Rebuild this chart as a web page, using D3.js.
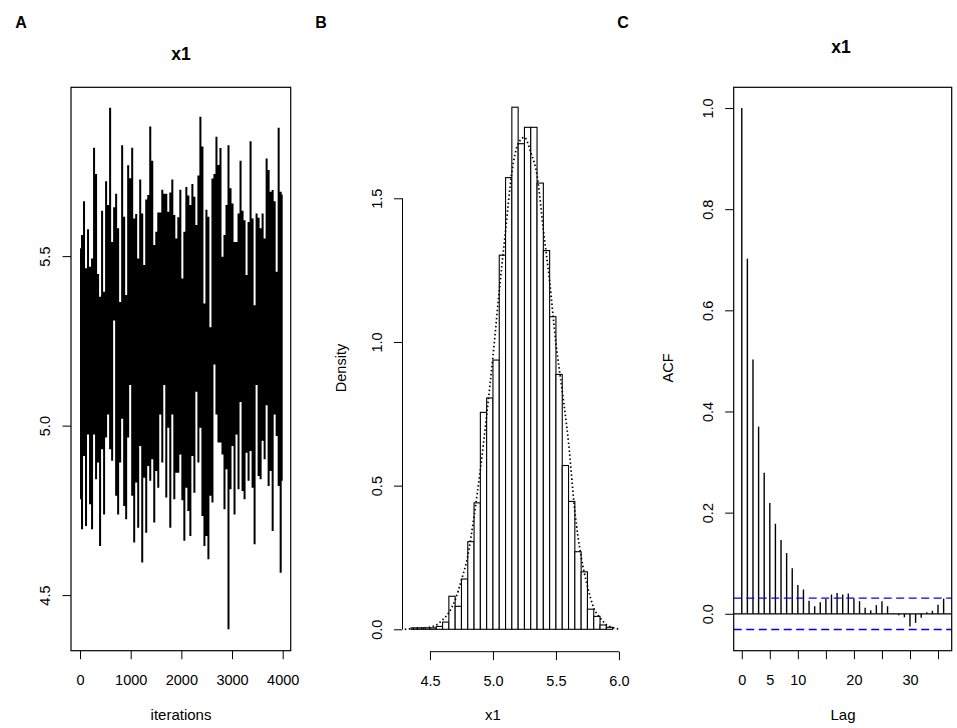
<!DOCTYPE html>
<html>
<head>
<meta charset="utf-8">
<script src="https://cdn.jsdelivr.net/npm/d3@7"></script>
<style>
  body { margin: 0; background: #fff; }
  svg text { font-family: "Liberation Sans", Arial, sans-serif; fill: #000; }
</style>
</head>
<body>
<svg id="chart"></svg>
<script>
// --- data ---

// A: trace of x1, one high / low pair per ~40 iterations
const traceIter = [0, 40, 79, 119, 158, 198, 238, 277, 317, 356, 396, 436, 475, 515, 554, 594, 634, 673, 713, 752,
    792, 832, 871, 911, 950, 990, 1030, 1069, 1109, 1148, 1188, 1228, 1267, 1307, 1346, 1386, 1426, 1465, 1505, 1544,
    1584, 1624, 1663, 1703, 1742, 1782, 1822, 1861, 1901, 1940, 1980, 2020, 2059, 2099, 2138, 2178, 2218, 2257, 2297, 2336,
    2376, 2416, 2455, 2495, 2534, 2574, 2614, 2653, 2693, 2732, 2772, 2812, 2851, 2891, 2930, 2970, 3010, 3049, 3089, 3128,
    3168, 3208, 3247, 3287, 3326, 3366, 3406, 3445, 3485, 3524, 3564, 3604, 3643, 3683, 3722, 3762, 3802, 3841, 3881, 3920,
    3960, 4000];
const traceMax = [5.523, 5.562, 5.662, 5.464, 5.579, 5.469, 5.493, 5.820, 5.742, 5.447, 5.380, 5.634, 5.395, 5.721, 5.651,
    5.938, 5.542, 5.644, 5.684, 5.582, 5.365, 5.827, 5.616, 5.385, 5.768, 5.730, 5.820, 5.611, 5.624, 5.493, 5.726, 5.626,
    5.474, 5.667, 5.680, 5.882, 5.781, 5.533, 5.572, 5.629, 5.629, 5.696, 5.684, 5.684, 5.631, 5.688, 5.726, 5.621, 5.552,
    5.615, 5.696, 5.434, 5.572, 5.704, 5.679, 5.651, 5.713, 5.675, 5.592, 5.738, 5.911, 5.823, 5.360, 5.637, 5.616, 5.290,
    5.729, 5.742, 5.852, 5.769, 5.819, 5.498, 5.562, 5.651, 5.827, 5.700, 5.655, 5.542, 5.542, 5.626, 5.781, 5.634, 5.606,
    5.444, 5.601, 5.839, 5.611, 5.355, 5.626, 5.613, 5.582, 5.626, 5.552, 5.788, 5.754, 5.690, 5.695, 5.662, 5.454, 5.879,
    5.690, 5.682];
const traceMin = [4.783, 4.694, 4.910, 4.704, 4.974, 4.768, 4.694, 4.974, 4.842, 4.891, 4.645, 4.930, 4.738, 4.965, 5.033,
    4.930, 4.896, 5.310, 4.793, 4.738, 4.891, 5.020, 4.763, 4.724, 4.965, 5.120, 4.793, 4.655, 4.832, 4.699, 4.940, 4.596,
    4.846, 4.684, 4.881, 4.837, 4.901, 4.714, 4.866, 4.817, 5.033, 4.891, 5.120, 4.788, 4.994, 4.699, 5.033, 4.783, 4.861,
    4.861, 4.915, 4.780, 4.660, 4.817, 4.748, 4.674, 4.910, 4.802, 5.100, 4.891, 4.994, 4.733, 4.645, 4.674, 4.606, 4.793,
    4.773, 5.180, 5.033, 4.950, 4.950, 4.915, 4.753, 4.871, 4.399, 4.812, 4.940, 4.738, 4.974, 4.812, 5.070, 4.807, 4.783,
    4.920, 4.837, 4.925, 4.817, 4.650, 5.120, 4.851, 4.842, 4.955, 4.901, 5.060, 4.822, 4.866, 4.689, 5.033, 4.969, 4.822,
    4.566, 4.837];
const traceXTicks = [0, 1000, 2000, 3000, 4000];
const traceYTicks = [4.5, 5.0, 5.5];

// B: histogram (bin width 0.05) and density curve
const histStart = [4.35, 4.40, 4.45, 4.50, 4.55, 4.60, 4.65, 4.70, 4.75, 4.80, 4.85, 4.90, 4.95, 5.00, 5.05, 5.10,
    5.15, 5.20, 5.25, 5.30, 5.35, 5.40, 5.45, 5.50, 5.55, 5.60, 5.65, 5.70, 5.75, 5.80, 5.85, 5.90];
const histDensity = [0.005, 0.005, 0.005, 0.005, 0.010, 0.025, 0.115, 0.080, 0.175, 0.305, 0.440, 0.755, 0.805, 0.937,
    1.302, 1.572, 1.817, 1.690, 1.747, 1.747, 1.553, 1.318, 1.088, 0.887, 0.570, 0.445, 0.270, 0.200, 0.070, 0.045,
    0.015, 0.007];
const binWidth = 0.05;
const densityX = [4.30, 4.35, 4.40, 4.45, 4.50, 4.55, 4.60, 4.65, 4.70, 4.75, 4.80, 4.85, 4.90, 4.95, 5.00, 5.05, 5.10,
    5.15, 5.20, 5.25, 5.30, 5.35, 5.40, 5.45, 5.50, 5.55, 5.60, 5.65, 5.70, 5.75, 5.80, 5.85, 5.90, 5.95, 6.00];
const densityY = [0.000, 0.002, 0.003, 0.005, 0.008, 0.015, 0.033, 0.058, 0.102, 0.172, 0.255, 0.393, 0.556, 0.745,
    0.950, 1.178, 1.387, 1.590, 1.690, 1.712, 1.660, 1.580, 1.390, 1.210, 0.995, 0.829, 0.650, 0.410, 0.253, 0.150,
    0.075, 0.040, 0.016, 0.006, 0.001];
const histXTicks = [4.5, 5.0, 5.5, 6.0];
const histYTicks = [0.0, 0.5, 1.0, 1.5];

// C: autocorrelation
const acfLag = [0, 1, 2, 3, 4, 5, 6, 7, 8, 9, 10, 11, 12, 13, 14, 15, 16, 17, 18, 19, 20, 21, 22, 23, 24, 25, 26, 27,
    28, 29, 30, 31, 32, 33, 34, 35, 36];
const acfValue = [1.000, 0.702, 0.503, 0.370, 0.279, 0.219, 0.178, 0.146, 0.120, 0.090, 0.057, 0.048, 0.026, 0.015,
    0.023, 0.029, 0.038, 0.041, 0.038, 0.040, 0.030, 0.025, 0.012, 0.007, 0.017, 0.025, 0.015, 0.001, -0.003, -0.007,
    -0.025, -0.018, -0.008, 0.003, 0.006, 0.018, 0.030];
const acfBound = 0.031;
const acfXTicks = [0, 5, 10, 15, 20, 25, 30, 35];
const acfXLabels = ['0', '5', '10', '', '20', '', '30', ''];
const acfYTicks = [0.0, 0.2, 0.4, 0.6, 0.8, 1.0];

// --- layout ---
const width = 957;
const height = 728;
const tickLen = 8.5;
const fmt = d3.format('.1f');

const svg = d3.select('#chart')
    .attr('width', width)
    .attr('height', height)
    .attr('viewBox', [0, 0, width, height]);

svg.append('rect').attr('width', width).attr('height', height).attr('fill', '#fff');

// helpers for R-style axes
function bottomAxis(g, scale, ticks, format, y, withLine) {
    const ax = g.append('g')
        .attr('transform', `translate(0, ${y})`)
        .call(d3.axisBottom(scale).tickValues(ticks).tickSizeOuter(0).tickSize(tickLen).tickFormat(format));
    ax.select('.domain').remove();
    ax.selectAll('.tick line').attr('stroke', '#000');
    ax.selectAll('.tick text')
        .attr('y', 34).attr('dy', null)
        .style('font-size', '14.5px');
    if (withLine) {
        ax.append('line')
            .attr('x1', scale(ticks[0])).attr('x2', scale(ticks[ticks.length - 1]))
            .attr('stroke', '#000');
    }
    return ax;
}

function leftAxis(g, scale, ticks, x, withLine) {
    const ax = g.append('g')
        .attr('transform', `translate(${x}, 0)`)
        .call(d3.axisLeft(scale).tickValues(ticks).tickSizeOuter(0).tickSize(tickLen).tickFormat(fmt));
    ax.select('.domain').remove();
    ax.selectAll('.tick line').attr('stroke', '#000');
    ax.selectAll('.tick text')
        .attr('transform', 'rotate(-90)')
        .attr('x', 0).attr('y', -21).attr('dy', null)
        .attr('text-anchor', 'middle')
        .style('font-size', '14.5px');
    if (withLine) {
        ax.append('line')
            .attr('y1', scale(ticks[0])).attr('y2', scale(ticks[ticks.length - 1]))
            .attr('stroke', '#000');
    }
    return ax;
}

function label(text, x, y, size, bold, rotate) {
    svg.append('text')
        .attr('transform', `translate(${x}, ${y})${rotate ? ' rotate(-90)' : ''}`)
        .attr('text-anchor', 'middle')
        .style('font-size', size + 'px')
        .style('font-weight', bold ? 'bold' : 'normal')
        .text(text);
}

// panel letters
[['A', 21], ['B', 321], ['C', 623]].forEach(([t, x]) => label(t, x, 28, 16, true));

// --- A: trace plot ---
const areaA = { left: 71, right: 290.7, top: 87.3, bottom: 650.7 };
const xA = d3.scaleLinear().domain([-178, 4158]).range([areaA.left, areaA.right]);
const yA = d3.scaleLinear().domain([4.336, 5.998]).range([areaA.bottom, areaA.top]);
const gA = svg.append('g');

// the 4000 draws are too dense to separate: paint each bin's range as a column
gA.append('path')
    .datum(traceIter)
    .attr('fill', '#000')
    .attr('d', d3.area()
        .curve(d3.curveStep)
        .x(d => xA(d))
        .y0((d, i) => yA(traceMin[i]))
        .y1((d, i) => yA(traceMax[i])));

gA.append('rect')
    .attr('x', areaA.left).attr('y', areaA.top)
    .attr('width', areaA.right - areaA.left).attr('height', areaA.bottom - areaA.top)
    .attr('fill', 'none').attr('stroke', '#000').attr('stroke-width', 1.2);

bottomAxis(gA, xA, traceXTicks, d3.format('d'), areaA.bottom, false);
leftAxis(gA, yA, traceYTicks, areaA.left, false);
label('x1', 181, 59.5, 17.5, true);
label('iterations', 181, 720, 15);

// --- B: histogram ---
const xB = d3.scaleLinear().domain([4.282, 6.118]).range([402.5, 633.8]);
const yB = d3.scaleLinear().domain([-0.0738, 1.8856]).range([650.5, 87.5]);
const gB = svg.append('g');

gB.selectAll('rect.bar')
    .data(histStart)
    .join('rect')
    .attr('class', 'bar')
    .attr('x', d => xB(d))
    .attr('width', d => xB(d + binWidth) - xB(d))
    .attr('y', (d, i) => yB(histDensity[i]))
    .attr('height', (d, i) => yB(0) - yB(histDensity[i]))
    .attr('fill', '#fff')
    .attr('stroke', '#000')
    .attr('stroke-width', 1.1);

gB.append('path')
    .datum(densityX.map((x, i) => [x, densityY[i]]))
    .attr('fill', 'none')
    .attr('stroke', '#000')
    .attr('stroke-width', 1.7)
    .attr('stroke-dasharray', '1.5,2.5')
    .attr('d', d3.line().curve(d3.curveMonotoneX).x(d => xB(d[0])).y(d => yB(d[1])));

bottomAxis(gB, xB, histXTicks, fmt, 651.7, true);
leftAxis(gB, yB, histYTicks, 402.5, true);
label('Density', 346, 368, 14.5, false, true);
label('x1', 493, 720, 15);

// --- C: ACF ---
const areaC = { left: 733.7, right: 951.7, top: 87.3, bottom: 650.7 };
const xC = d3.scaleLinear().domain([-1.44, 37.44]).range([areaC.left, areaC.right]);
const yC = d3.scaleLinear().domain([-0.073, 1.041]).range([areaC.bottom, areaC.top]);
const gC = svg.append('g');

gC.selectAll('line.spike')
    .data(acfLag)
    .join('line')
    .attr('class', 'spike')
    .attr('x1', d => xC(d)).attr('x2', d => xC(d))
    .attr('y1', yC(0))
    .attr('y2', (d, i) => yC(acfValue[i]))
    .attr('stroke', '#000')
    .attr('stroke-width', 1.4);

gC.append('line')
    .attr('x1', areaC.left).attr('x2', areaC.right)
    .attr('y1', yC(0)).attr('y2', yC(0))
    .attr('stroke', '#000').attr('stroke-width', 1.2);

[acfBound, -acfBound].forEach(v => {
    gC.append('line')
        .attr('x1', areaC.left).attr('x2', areaC.right)
        .attr('y1', yC(v)).attr('y2', yC(v))
        .attr('stroke', '#0000ff')
        .attr('stroke-width', 1.4)
        .attr('stroke-dasharray', '8,4.5');
});

gC.append('rect')
    .attr('x', areaC.left).attr('y', areaC.top)
    .attr('width', areaC.right - areaC.left).attr('height', areaC.bottom - areaC.top)
    .attr('fill', 'none').attr('stroke', '#000').attr('stroke-width', 1.2);

bottomAxis(gC, xC, acfXTicks, (d, i) => acfXLabels[i], areaC.bottom, false);
leftAxis(gC, yC, acfYTicks, areaC.left, false);
label('x1', 841, 53, 17.5, true);
label('ACF', 673, 368, 14.5, false, true);
label('Lag', 843, 720, 15);
</script>
</body>
</html>
